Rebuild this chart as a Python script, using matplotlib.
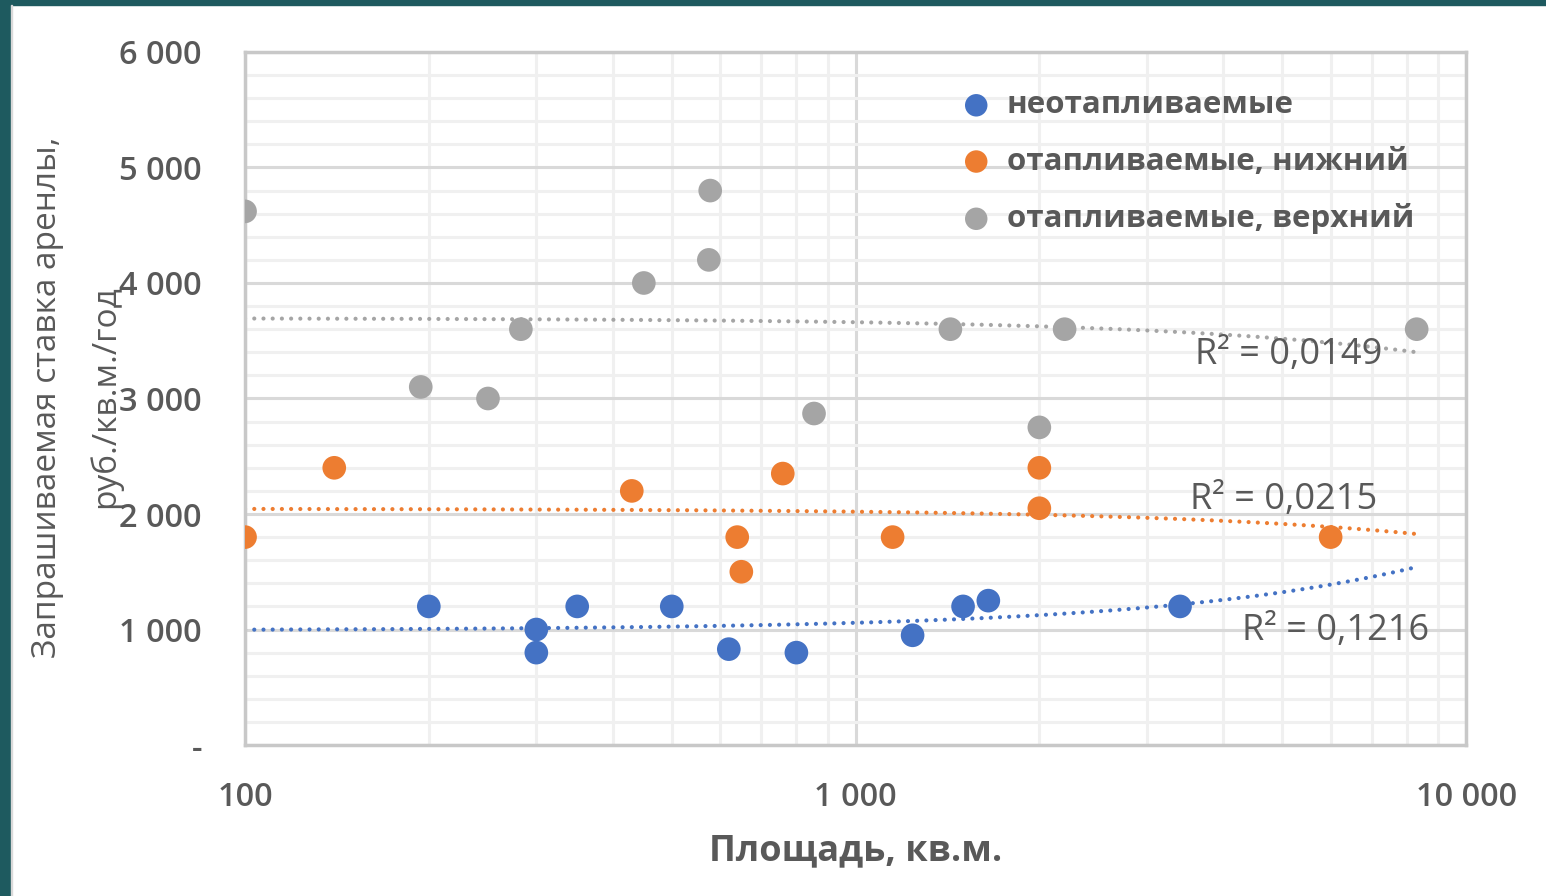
import matplotlib.pyplot as plt
import numpy as np
from matplotlib.patches import Rectangle
from matplotlib.ticker import FixedLocator, FuncFormatter, NullFormatter

plt.rcParams['font.family'] = ['Open Sans', 'DejaVu Sans']

# площадь (кв.м.) и ставка (руб./кв.м./год) по трём группам
unheated_area = [200, 300, 300, 350, 500, 620, 800, 1240, 1500, 1650, 3400]
unheated_rate = [1200, 1000, 800, 1200, 1200, 830, 800, 950, 1200, 1250, 1200]

heated_low_area = [100, 140, 430, 640, 650, 760, 1150, 2000, 2000, 6000]
heated_low_rate = [1800, 2400, 2200, 1800, 1500, 2350, 1800, 2400, 2050, 1800]

heated_high_area = [100, 194, 250, 283, 450, 575, 578, 855, 1430, 2000, 2200, 8300]
heated_high_rate = [4620, 3100, 3000, 3600, 4000, 4200, 4800, 2870, 3600, 2750, 3600, 3600]

series_names = ['неотапливаемые', 'отапливаемые, нижний', 'отапливаемые, верхний']
r2_labels = ['R² = 0,1216', 'R² = 0,0215', 'R² = 0,0149']
y_ticks = [0, 1000, 2000, 3000, 4000, 5000, 6000]
x_ticks = [100, 1000, 10000]

colors = ['#4472C4', '#ED7D31', '#A5A5A5']
text_color = '#595959'

fig = plt.figure(figsize=(15.46, 8.96), dpi=100)
fig.patch.set_facecolor('white')
# тёмная рамка слайда
fig.add_artist(Rectangle((0, 0), 0.0068, 1, transform=fig.transFigure, color='#1E5A5F', zorder=0))
fig.add_artist(Rectangle((0, 0.994), 1, 0.006, transform=fig.transFigure, color='#1E5A5F', zorder=0))
fig.add_artist(Rectangle((0.0068, 0), 0.0012, 0.994, transform=fig.transFigure, color='#D9D9D9', zorder=0))

ax = fig.add_axes([0.1585, 0.1685, 0.7898, 0.7735])
ax.set_xscale('log')
ax.set_xlim(100, 10000)
ax.set_ylim(0, 6000)

# сетка
ax.yaxis.set_major_locator(FixedLocator(y_ticks))
ax.yaxis.set_minor_locator(FixedLocator(np.arange(0, 6001, 200)))
ax.grid(which='major', axis='both', color='#D9D9D9', linewidth=2.2, zorder=0)
ax.grid(which='minor', axis='both', color='#F0F0F0', linewidth=2.2, zorder=0)
ax.set_axisbelow(True)
for s in ax.spines.values():
    s.set_color('#C8C8C8')
    s.set_linewidth(2.5)

ax.tick_params(which='both', length=0)
ax.xaxis.set_major_locator(FixedLocator(x_ticks))
ax.xaxis.set_minor_formatter(NullFormatter())
ax.xaxis.set_major_formatter(FuncFormatter(lambda v, p: f'{int(v):,}'.replace(',', ' ')))
ax.yaxis.set_major_formatter(FuncFormatter(lambda v, p: '-' if v == 0 else f'{int(v):,}'.replace(',', ' ')))
for lab in ax.get_xticklabels() + ax.get_yticklabels():
    lab.set_fontsize(23.5)
    lab.set_color(text_color)
    lab.set_fontweight('semibold')
ax.tick_params(axis='x', pad=26)
ax.tick_params(axis='y', pad=31)

groups = [(unheated_area, unheated_rate), (heated_low_area, heated_low_rate), (heated_high_area, heated_high_rate)]
x_line = np.logspace(2, np.log10(8300), 200)
for (xs, ys), c, name in zip(groups, colors, series_names):
    ax.scatter(xs, ys, s=290, color=c, edgecolors='none', label=name, zorder=3)
    # линейный тренд
    k, b = np.polyfit(xs, ys, 1)
    ax.plot(x_line, k * x_line + b, color=c, linestyle=(0, (0.01, 2.2)), linewidth=3.0,
            dash_capstyle='round', zorder=2)

ax.text(4295, 987, r2_labels[0], fontsize=26, color=text_color, va='center', ha='left', zorder=4)
ax.text(3530, 2121, r2_labels[1], fontsize=26, color=text_color, va='center', ha='left', zorder=4)
ax.text(3600, 3377, r2_labels[2], fontsize=26, color=text_color, va='center', ha='left', zorder=4)

leg = ax.legend(loc='upper left', bbox_to_anchor=(0.563, 0.985), frameon=False,
                prop={'weight': 'bold', 'size': 22.5}, labelcolor=text_color,
                handlelength=1.0, handletextpad=0.47, labelspacing=0.84, markerscale=0.95)

ax.set_xlabel('Площадь, кв.м.', fontsize=26, fontweight='bold', color=text_color, labelpad=14)
fig.text(0.031, 0.557, 'Запрашиваемая ставка аренлы,', rotation=90, fontsize=24,
         color=text_color, ha='center', va='center')
fig.text(0.068, 0.557, 'руб./кв.м./год', rotation=90, fontsize=24,
         color=text_color, ha='center', va='center')

plt.savefig('out.png', dpi=100)
